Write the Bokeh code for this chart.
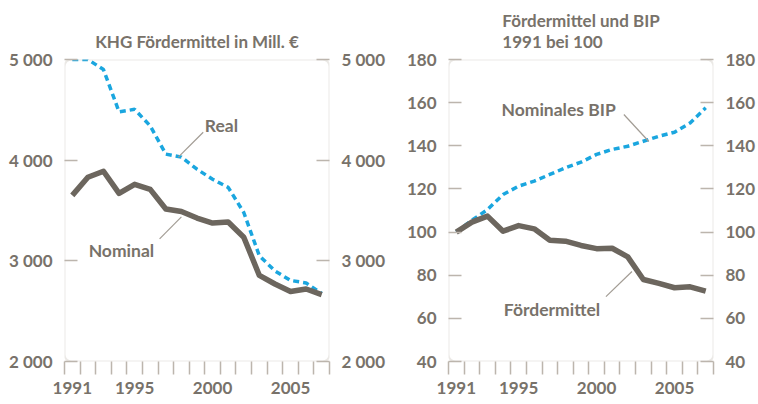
from bokeh.plotting import figure
from bokeh.layouts import row
from bokeh.models import (Range1d, LinearAxis, FixedTicker, BoxAnnotation)
from bokeh.core.properties import value
from bokeh.embed import file_html
from bokeh.resources import INLINE

years = list(range(1991, 2008))
nominal = [3650, 3830, 3890, 3670, 3760, 3710, 3515, 3490, 3425, 3375, 3385, 3235, 2855, 2770, 2695, 2720, 2665]
real = [5000, 5000, 4900, 4480, 4505, 4340, 4060, 4030, 3910, 3810, 3730, 3480, 3050, 2900, 2805, 2780, 2675]
foerder_idx = [100, 104.6, 107.4, 100.4, 103, 101.5, 96.2, 95.8, 93.8, 92.3, 92.5, 88.5, 78, 76.2, 74.2, 74.6, 72.6]
bip_idx = [100, 105.5, 110.4, 117.4, 121.3, 123.6, 126.7, 129.8, 132.4, 136, 138.3, 139.8, 142.1, 144.4, 146.3, 150.6, 157.6]

left_ticks = [2000, 3000, 4000, 5000]
left_tick_labels = ["2 000", "3 000", "4 000", "5 000"]
right_ticks = [40, 60, 80, 100, 120, 140, 160, 180]
x_label_years = [1991, 1995, 2000, 2005]
minor_x = [y - 0.5 for y in years] + [2007.5]

FONT = "Lato"
TXT = "#78726a"
BOX = "#bcb5ad"
DARK = "#6c665e"
CYAN = "#1aa6df"
FS = "17px"


def make_fig(ymin, ymax, ticks, overrides, title, bl, br, rstand):
    p = figure(frame_width=265, frame_height=302, output_backend="svg", toolbar_location=None,
               x_range=Range1d(1990.5, 2007.5), y_range=Range1d(ymin, ymax),
               min_border_left=bl, min_border_right=br, min_border_top=57, min_border_bottom=40,
               y_axis_location=None, title=title)
    p.title.align = "center"
    p.title.text_font = FONT
    p.title.text_font_size = FS
    p.title.text_color = TXT
    p.title.text_font_style = "bold"
    p.title.text_line_height = 1.0
    p.title.standoff = 15
    p.outline_line_color = None
    p.grid.visible = False
    p.background_fill_color = "white"
    p.border_fill_color = "white"
    xa = p.xaxis[0]
    xa.ticker = FixedTicker(ticks=x_label_years, minor_ticks=minor_x)
    xa.axis_line_color = None
    xa.major_tick_line_color = None
    xa.major_tick_out = 0
    xa.major_tick_in = 0
    xa.minor_tick_in = 0
    xa.minor_tick_out = 13
    xa.minor_tick_line_color = BOX
    xa.minor_tick_line_width = 1.5
    xa.major_label_standoff = 7
    xa.major_label_text_font = FONT
    xa.major_label_text_font_size = FS
    xa.major_label_text_font_style = "bold"
    xa.major_label_text_color = TXT
    for side, st in (("left", 12), ("right", rstand)):
        ax = LinearAxis(ticker=FixedTicker(ticks=ticks))
        ax.major_label_overrides = overrides
        ax.axis_line_color = None
        ax.major_tick_in = 13
        ax.major_tick_out = 0
        ax.major_tick_line_color = BOX
        ax.major_tick_line_width = 1.5
        ax.minor_tick_line_color = None
        ax.major_label_standoff = st
        ax.major_label_text_font = FONT
        ax.major_label_text_font_size = FS
        ax.major_label_text_font_style = "bold"
        ax.major_label_text_color = TXT
        p.add_layout(ax, side)
    box = BoxAnnotation(fill_alpha=0, line_color=BOX, line_width=2, border_radius=7)
    p.add_layout(box)
    return p


def leader(p, x0, y0, x1, y1):
    p.line([x0, x1], [y0, y1], line_color="#a29c94", line_width=1.2)


def label(p, x, y, t):
    p.text(x=[x], y=[y], text=[t], text_align="left", text_baseline="middle",
           text_font=value(FONT), text_font_size="17.5px", text_color=TXT, text_font_style="bold")


left_over = {t: l for t, l in zip(left_ticks, left_tick_labels)}
p1 = make_fig(2000, 5000, left_ticks, left_over, "KHG Fördermittel in Mill. €", 64, 56, 12)
p1.line(years, real, line_color=CYAN, line_width=3.5, line_dash="6 4")
p1.line(years, nominal, line_color=DARK, line_width=5.5, line_join="round")
leader(p1, 1999.4, 4277, 1997.8, 4030)
label(p1, 1999.5, 4340, "Real")
leader(p1, 1996.6, 3218, 1998.0, 3436)
label(p1, 1992.05, 3100, "Nominal")

p2 = make_fig(40, 180, right_ticks, {}, "Fördermittel und BIP\n1991 bei 100", 60, 41, 12)
p2.line(years, bip_idx, line_color=CYAN, line_width=3.5, line_dash="6 4")
p2.line(years, foerder_idx, line_color=DARK, line_width=5.5, line_join="round")
leader(p2, 2001.75, 154.5, 2003.35, 142)
label(p2, 1993.9, 156.8, "Nominales BIP")
leader(p2, 2000.6, 70.1, 2002.27, 81.7)
label(p2, 1994.05, 64.1, "Fördermittel")

layout = row(p1, p2)
open("out.html", "w").write(file_html(layout, INLINE))
